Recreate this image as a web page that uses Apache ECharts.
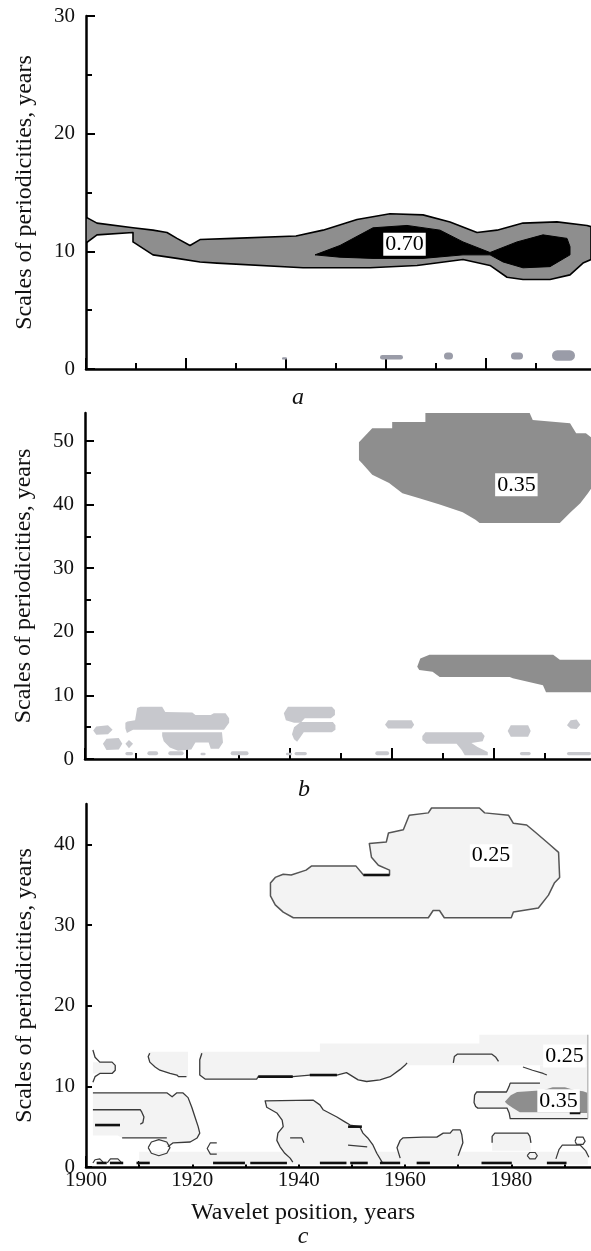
<!DOCTYPE html>
<html><head><meta charset="utf-8">
<script src="https://cdn.jsdelivr.net/npm/echarts@6/dist/echarts.min.js"></script>
<style>html,body{margin:0;padding:0;background:#fff}#chart{width:591px;height:1251px}</style>
</head><body><div id="chart"></div>
<script>
// ---------- axes ----------
const xMajorTicks = [1900, 1920, 1940, 1960, 1980];
const xMinorTicks = [1910, 1930, 1950, 1970, 1990];
const xTickLabels = [1900, 1920, 1940, 1960, 1980];
const yTicksA = [0, 10, 20, 30], yMinorA = [5, 15, 25];
const yTicksB = [0, 10, 20, 30, 40, 50], yMinorB = [5, 15, 25, 35, 45];
const yTicksC = [0, 10, 20, 30, 40];
const xMaxA = 2001, xMaxB = 1999, xMaxC = 1995;
const yMaxA = 30, yMaxB = 54.4, yMaxC = 45;

// ---------- panel a ----------
const aBand = [[1900.0,12.9],[1902.2,12.4],[1909.4,12.0],[1913.4,11.8],[1916.2,11.6],[1918.2,11.1],[1920.8,10.5],[1922.8,11.0],[1929.4,11.1],[1942.0,11.3],[1947.4,11.8],[1954.2,12.7],[1960.8,13.2],[1967.4,13.1],[1972.8,12.5],[1978.2,11.6],[1982.2,11.8],[1987.4,12.4],[1994.2,12.5],[2000.2,12.2],[2001,12.1],[2001,9.3],[1999.4,9.0],[1996.8,8.0],[1992.8,7.6],[1987.4,7.6],[1984.2,7.8],[1980.8,8.8],[1975.4,9.3],[1966.2,8.8],[1956.8,8.6],[1943.4,8.6],[1926.2,9.0],[1922.8,9.1],[1918.2,9.4],[1913.4,9.7],[1909.4,10.8],[1909.4,11.6],[1902.2,11.4],[1900.0,10.7]];
const aCore = [[1945.8,9.7],[1950.8,10.5],[1957.4,12.0],[1964.2,12.2],[1970.8,11.8],[1975.4,10.8],[1980.8,9.9],[1986.2,10.8],[1991.4,11.4],[1996.2,11.1],[1996.8,10.4],[1996.8,9.7],[1992.8,8.7],[1987.4,8.6],[1983.4,9.1],[1980.8,9.7],[1975.4,9.7],[1967.4,9.4],[1957.4,9.4],[1950.8,9.5]];
const aSpots = [[1958.8,1963.4,0.8,1.2],[1971.6,1973.4,0.8,1.4],[1985.0,1987.4,0.8,1.4],[1993.2,1997.8,0.7,1.6],[1939.2,1940.2,0.8,1.0]];
const aLabels = [{name:'0.70', value:[1963.7,10.6]}];

// ---------- panel b ----------
const bTop = [[1966.6,54.4],[1987.0,54.4],[1987.6,53.3],[1994.9,52.8],[1996.1,51.2],[1998.0,51.2],[1999,50.6],[1999,42.5],[1998.4,41.8],[1996.9,40.2],[1994.9,38.7],[1992.9,37.1],[1977.2,37.1],[1976.4,37.6],[1973.9,38.8],[1969.4,40.0],[1965.4,41.0],[1962.1,41.8],[1959.5,43.4],[1956.2,44.7],[1954.2,46.5],[1953.6,47.0],[1953.6,49.8],[1956.2,52.0],[1960.1,52.0],[1960.1,53.0],[1966.6,53.0]];
const bMid = [[1965.0,14.5],[1965.6,15.8],[1967.4,16.4],[1991.6,16.4],[1992.9,15.6],[1999,15.6],[1999,10.5],[1990.2,10.5],[1989.6,11.6],[1983.7,12.7],[1983.1,12.9],[1969.4,12.9],[1968.0,13.7],[1965.4,14.0]];
const bLightA = [[1901.6,4.5],[1902.2,5.1],[1904.5,5.3],[1905.4,4.6],[1904.5,3.9],[1902.2,3.8]];
const bLightB = [[1903.5,2.4],[1904.2,3.2],[1906.6,3.3],[1907.3,2.4],[1906.6,1.5],[1904.2,1.4]];
const bLightB2 = [[1907.9,2.4],[1908.6,3.0],[1909.4,2.4],[1908.6,1.7]];
const bLightC1 = [[1907.9,5.7],[1908.3,5.9],[1909.8,6.1],[1910.2,8.0],[1910.8,8.2],[1915.1,8.2],[1915.7,7.4],[1921.0,7.3],[1921.6,6.9],[1924.6,6.9],[1925.2,7.2],[1927.5,7.2],[1928.2,6.4],[1928.2,5.7],[1927.2,4.6],[1909.4,4.6],[1908.2,4.1],[1907.9,4.8]];
const bLightC2 = [[1915.1,4.2],[1926.8,4.2],[1927.0,2.6],[1926.2,1.6],[1924.6,1.6],[1924.2,2.6],[1921.6,2.6],[1920.8,1.5],[1918.2,1.3],[1916.6,1.8],[1915.4,2.8],[1915.1,3.6]];
const bLightD1 = [[1938.9,7.2],[1939.7,8.2],[1948.3,8.2],[1948.9,7.7],[1948.9,6.9],[1948.1,6.4],[1943.0,6.4],[1942.2,5.7],[1940.9,5.7],[1939.3,6.1]];
const bLightD2 = [[1940.9,5.0],[1942.2,5.8],[1948.5,5.8],[1949.0,5.3],[1949.0,4.6],[1948.3,4.2],[1942.8,4.2],[1942.2,3.5],[1941.5,2.7],[1940.9,3.1],[1940.5,3.9]];
const bLightE = [[1958.7,5.4],[1959.3,6.1],[1963.9,6.1],[1964.4,5.4],[1963.9,4.8],[1959.3,4.8]];
const bLightF = [[1966.0,3.6],[1966.6,4.2],[1977.6,4.2],[1978.2,3.6],[1977.8,2.8],[1975.6,2.5],[1976.8,1.9],[1978.8,1.1],[1978.8,0.6],[1974.3,0.6],[1973.7,1.4],[1972.7,2.4],[1966.8,2.4],[1966.0,3.0]];
const bLightG = [[1982.7,4.4],[1983.3,5.3],[1986.7,5.3],[1987.2,4.4],[1986.7,3.5],[1983.3,3.5]];
const bLightH = [[1994.3,5.3],[1995.0,6.1],[1996.2,6.2],[1996.9,5.4],[1996.2,4.7],[1995.0,4.8]];
const bStrips = [[1907.9,1909.4,0.6,1.1],[1912.2,1914.3,0.6,1.2],[1916.3,1919.3,0.6,1.2],[1922.6,1923.6,0.6,1.0],[1928.5,1932.0,0.6,1.2],[1939.3,1940.5,0.6,1.0],[1941.0,1943.4,0.6,1.1],[1956.8,1959.5,0.6,1.2],[1985.1,1987.2,0.6,1.1],[1994.3,1999,0.6,1.1]];
const bLabels = [{name:'0.35', value:[1984.4,43.1]}];

// ---------- panel c ----------
const cTop = [[1934.7,33.6],[1934.7,35.2],[1935.6,35.9],[1937.1,36.3],[1938.6,36.2],[1941.4,36.8],[1942.4,37.3],[1950.8,37.3],[1952.2,36.2],[1957.1,36.2],[1957.1,36.8],[1955.0,37.4],[1953.7,38.4],[1953.3,40.1],[1956.5,40.3],[1956.9,41.4],[1959.7,41.8],[1960.8,43.6],[1964.4,43.9],[1965.0,44.5],[1974.0,44.5],[1975.0,43.9],[1979.5,43.6],[1980.4,42.6],[1982.9,42.4],[1984.7,41.4],[1987.0,40.1],[1988.9,39.0],[1989.1,35.9],[1988.1,35.2],[1987.0,33.7],[1985.1,32.1],[1980.4,31.6],[1980.0,30.9],[1967.4,30.9],[1966.5,31.8],[1965.3,31.8],[1964.4,30.9],[1939.0,30.9],[1937.1,31.6],[1935.6,32.5]];
const cFillBand = [[1921.4,14.3],[1944.0,14.3],[1944.0,15.3],[1974.0,15.3],[1974.0,16.4],[1994.4,16.4],[1994.4,12.6],[1960.0,12.6],[1959.1,12.1],[1957.2,11.2],[1955.3,10.8],[1952.8,10.6],[1951.2,10.8],[1949.0,11.7],[1947.2,11.4],[1942.1,11.4],[1938.9,11.2],[1932.4,11.2],[1932.1,10.9],[1922.4,10.9],[1921.4,11.4]];
const cFillRight = [[1985.4,12.6],[1994.4,12.6],[1994.4,6.0],[1979.8,6.0],[1979.6,6.7],[1979.2,7.3],[1973.7,7.3],[1973.3,7.5],[1973.0,8.0],[1973.1,8.9],[1973.5,9.3],[1979.1,9.3],[1979.6,10.0],[1979.8,10.4],[1985.4,10.4]];
const cFillBandL = [[1911.7,14.3],[1919.2,14.3],[1919.2,11.2],[1917.4,11.2],[1917.1,11.4],[1915.8,11.6],[1913.9,12.0],[1913.0,12.4],[1912.0,13.0],[1911.7,13.7]];
const cFillLeft = [[1901.3,9.2],[1915.2,9.2],[1916.2,8.7],[1917.1,9.2],[1918.2,9.2],[1919.2,8.6],[1919.9,7.4],[1920.5,6.2],[1921.1,5.0],[1921.4,4.2],[1920.9,3.6],[1919.6,3.1],[1916.4,3.0],[1915.4,2.5],[1913.9,3.6],[1906.8,3.6],[1906.0,3.9],[1901.3,3.9]];
const cFillU = [[1901.3,13.0],[1904.9,13.0],[1905.5,12.6],[1905.5,12.0],[1904.9,11.6],[1901.3,11.6]];
const cFillMid = [[1933.7,8.2],[1942.7,8.3],[1944.0,7.7],[1944.6,7.1],[1947.2,6.2],[1948.7,5.6],[1949.7,5.2],[1951.5,5.0],[1952.1,4.2],[1953.0,3.6],[1954.0,2.7],[1954.7,1.7],[1955.7,0.6],[1938.9,0.6],[1938.4,1.1],[1937.4,1.7],[1936.5,2.5],[1935.9,3.3],[1936.1,4.2],[1937.1,5.0],[1936.9,5.8],[1935.9,6.7],[1934.0,7.4]];
const cFillBot = [[1959.1,1.1],[1958.5,2.4],[1959.1,3.3],[1959.6,3.6],[1963.4,3.7],[1966.0,3.7],[1967.2,4.2],[1968.5,4.2],[1969.0,4.6],[1970.4,4.6],[1970.7,4.0],[1970.9,3.0],[1970.4,2.1],[1970.0,1.4],[1970.0,0.5],[1959.1,0.5]];
const cFillHook = [[1976.4,2.0],[1976.4,3.8],[1976.9,4.2],[1983.1,4.2],[1983.5,3.8],[1983.7,2.0]];
const cFillFloor = [[1910.0,0.3],[1994.4,0.3],[1994.4,1.9],[1910.0,1.9]];
const cDark = [[1978.8,8.1],[1979.9,8.9],[1981.1,9.3],[1986.0,9.5],[1987.8,9.9],[1990.1,9.9],[1992.0,9.5],[1993.5,9.4],[1994.3,9.2],[1994.3,6.7],[1992.0,6.7],[1991.0,6.8],[1981.6,6.8],[1980.3,7.3],[1979.2,7.8]];
const cLineU = [[1901.3,14.5],[1901.7,13.6],[1902.6,13.0],[1904.9,13.0],[1905.5,12.6],[1905.5,12.0],[1904.9,11.6],[1902.6,11.6],[1901.7,11.2],[1901.3,10.5]];
const cLineBandL = [[1912.0,14.1],[1911.7,13.7],[1912.0,13.0],[1913.0,12.4],[1913.9,12.0],[1915.8,11.6],[1917.1,11.4],[1917.4,11.2],[1918.9,11.2]];
const cLineBand = [[1921.8,14.1],[1921.4,13.3],[1921.4,11.4],[1922.4,10.9],[1932.1,10.9],[1932.4,11.2],[1938.9,11.2],[1942.1,11.4],[1947.2,11.4],[1949.0,11.7],[1951.2,10.8],[1952.8,10.6],[1955.3,10.8],[1957.2,11.2],[1959.1,12.1],[1960.0,12.6],[1960.4,12.9]];
const cLineBox = [[1969.1,12.9],[1969.3,13.7],[1969.9,14.0],[1976.3,14.0],[1977.1,13.6],[1977.6,13.1]];
const cLineBox2 = [[1982.2,12.4],[1984.0,12.0],[1986.0,11.6],[1986.7,11.4]];
const cLineRing = [[1985.4,10.4],[1979.8,10.4],[1979.6,10.0],[1979.1,9.3],[1973.5,9.3],[1973.1,8.9],[1973.0,8.0],[1973.3,7.5],[1973.7,7.3],[1979.2,7.3],[1979.6,6.7],[1979.8,6.0],[1994.4,6.0]];
const cLineEdge = [[1994.4,6.0],[1994.4,16.4]];
const cLineLeft = [[1901.3,9.2],[1915.2,9.2],[1916.2,8.7],[1917.1,9.2],[1918.2,9.2],[1919.2,8.6],[1919.9,7.4],[1920.5,6.2],[1921.1,5.0],[1921.4,4.2],[1920.9,3.6],[1919.6,3.1],[1916.4,3.0],[1915.4,2.5]];
const cLineLeft2 = [[1906.8,3.6],[1915.2,3.6]];
const cLineLeft3 = [[1901.3,7.1],[1910.2,7.1],[1910.5,6.8],[1910.9,6.2],[1910.7,5.5],[1910.2,5.3]];
const cLoop1 = [[1911.7,2.4],[1912.3,3.1],[1913.7,3.4],[1915.2,3.1],[1915.8,2.4],[1915.2,1.7],[1913.7,1.4],[1912.3,1.7],[1911.7,2.4]];
const cLineC = [[1924.6,3.0],[1923.4,3.0],[1922.8,2.3],[1923.4,1.6],[1924.6,1.6]];
const cLineMid = [[1938.9,0.6],[1938.4,1.1],[1937.4,1.7],[1936.5,2.5],[1935.9,3.3],[1936.1,4.2],[1937.1,5.0],[1936.9,5.8],[1935.9,6.7],[1934.0,7.4],[1933.7,8.2],[1942.7,8.3],[1944.0,7.7],[1944.6,7.1],[1947.2,6.2],[1948.7,5.6],[1949.7,5.2],[1951.5,5.0],[1952.1,4.2],[1953.0,3.6],[1954.0,2.7],[1954.7,1.7],[1955.7,0.6]];
const cLineMid2 = [[1938.4,3.6],[1940.6,3.6],[1941.0,3.0]];
const cLineMid3 = [[1949.3,2.7],[1952.9,2.5]];
const cLineBot = [[1959.1,1.1],[1958.5,2.4],[1959.1,3.3],[1959.6,3.6],[1963.4,3.7],[1966.0,3.7],[1967.2,4.2],[1968.5,4.2],[1969.0,4.6],[1970.4,4.6],[1970.7,4.0],[1970.9,3.0],[1970.4,2.1],[1970.0,1.4]];
const cLineHook = [[1976.4,3.0],[1976.4,3.8],[1976.9,4.2],[1983.1,4.2],[1983.5,3.8],[1983.7,3.0]];
const cLoop2 = [[1992.0,3.2],[1992.3,3.7],[1993.5,3.7],[1993.9,3.2],[1993.5,2.8],[1992.3,2.8],[1992.0,3.2]];
const cLineRB = [[1988.4,1.0],[1989.0,2.2],[1989.6,2.7],[1993.0,2.7],[1994.0,2.0],[1994.6,1.2]];
const cLoop3 = [[1983.0,1.4],[1983.5,1.8],[1984.5,1.8],[1984.9,1.4],[1984.5,1.0],[1983.5,1.0],[1983.0,1.4]];
const cBumps1 = [[1901.3,0.5],[1901.7,0.9],[1902.6,1.0],[1903.2,0.6]];
const cBumps2 = [[1904.0,0.5],[1904.6,1.0],[1906.0,1.0],[1906.6,0.6]];
const cThick = [[1902.0,1903.9,0.5],[1904.5,1907.0,0.5],[1909.5,1912.0,0.5],[1923.9,1929.9,0.5],[1930.9,1937.8,0.5],[1944.0,1949.0,0.5],[1949.7,1953.0,0.5],[1955.3,1959.1,0.5],[1962.2,1964.7,0.5],[1974.4,1980.1,0.5],[1986.7,1990.4,0.5],[1932.4,1938.9,11.2],[1942.1,1947.2,11.4],[1949.3,1951.9,5.0],[1901.7,1906.4,5.2],[1991.0,1993.0,6.7],[1952.2,1957.1,36.2]];
const cLabels = [{name:'0.25', value:[1976.2,38.6]},{name:'0.25', value:[1990.0,13.75]},{name:'0.35', value:[1988.9,8.2]}];

// ---------- helpers ----------
const FONT = '"Liberation Serif", "Times New Roman", serif';
function poly(g, pts, fill, stroke, lw, z) {
  return {type:'custom', coordinateSystem:'cartesian2d', xAxisIndex:2*g, yAxisIndex:2*g, data:pts, clip:true, silent:true, z:z||2,
    renderItem(params, api) {
      if (params.dataIndexInside !== 0) return null;
      return {type:'polygon', shape:{points: pts.map(p => api.coord(p))},
        style:{fill: fill, stroke: stroke || 'none', lineWidth: lw || 0, lineJoin:'round'}};
    }};
}
function pline(g, pts, color, lw, z) {
  return {type:'custom', coordinateSystem:'cartesian2d', xAxisIndex:2*g, yAxisIndex:2*g, data:pts, clip:true, silent:true, z:z||4,
    renderItem(params, api) {
      if (params.dataIndexInside !== 0) return null;
      return {type:'polyline', shape:{points: pts.map(p => api.coord(p))},
        style:{fill:'none', stroke: color, lineWidth: lw, lineJoin:'round'}};
    }};
}
function rects(g, items, color, z) {
  return {type:'custom', coordinateSystem:'cartesian2d', xAxisIndex:2*g, yAxisIndex:2*g, data:items, encode:{x:[0,1], y:[2,3]}, clip:true, silent:true, z:z||2,
    renderItem(params, api) {
      const p1 = api.coord([api.value(0), api.value(3)]);
      const p2 = api.coord([api.value(1), api.value(2)]);
      const w = p2[0]-p1[0], h = p2[1]-p1[1];
      return {type:'rect', shape:{x:p1[0], y:p1[1], width:w, height:h, r: Math.min(w,h)/2}, style:{fill:color}};
    }};
}
function segs(g, items, color, lw, z) {
  return {type:'custom', coordinateSystem:'cartesian2d', xAxisIndex:2*g, yAxisIndex:2*g, data:items, encode:{x:[0,1], y:2}, clip:true, silent:true, z:z||5,
    renderItem(params, api) {
      const p1 = api.coord([api.value(0), api.value(2)]);
      const p2 = api.coord([api.value(1), api.value(2)]);
      return {type:'line', shape:{x1:p1[0], y1:p1[1], x2:p2[0], y2:p2[1]}, style:{stroke:color, lineWidth:lw}};
    }};
}
function labels(g, items, border) {
  return {type:'scatter', xAxisIndex:2*g, yAxisIndex:2*g, data:items, symbolSize:1, silent:true, z:10,
    itemStyle:{color:'rgba(0,0,0,0)', opacity:1},
    label:{show:true, position:'inside', opacity:1, formatter: p => p.name, fontFamily:FONT, fontSize:22, color:'#000',
      backgroundColor:'#ffffff', borderColor: border ? '#000' : 'rgba(0,0,0,0)', borderWidth: border ? 1 : 0, padding:[1,2,0,2]}};
}
const yearFmt = v => String(Math.round(v));
function xAxes(g, max, showLabels) {
  return [
    {type:'value', gridIndex:g, min:1900, max:max, position:'bottom',
      axisLine:{show:true, onZero:false, lineStyle:{color:'#000', width:2.5}},
      axisTick:{show:true, inside:true, length:11, customValues:xMajorTicks, lineStyle:{color:'#000', width:2}},
      axisLabel:{show:showLabels, customValues:xTickLabels, formatter:yearFmt, margin:3, fontFamily:FONT, fontSize:21, color:'#111'},
      splitLine:{show:false}},
    {type:'value', gridIndex:g, min:1900, max:max, position:'bottom',
      axisLine:{show:false, onZero:false},
      axisTick:{show:true, inside:true, length:6, customValues:xMinorTicks, lineStyle:{color:'#000', width:2}},
      axisLabel:{show:false}, splitLine:{show:false}}
  ];
}
function yAxes(g, max, ticks, minor, tickLen) {
  return [
    {type:'value', gridIndex:g, min:0, max:max, position:'left',
      name:'Scales of periodicities, years', nameLocation:'middle', nameGap:49,
      nameTextStyle:{fontFamily:FONT, fontSize:24, color:'#111'},
      axisLine:{show:true, onZero:false, lineStyle:{color:'#000', width:2.5}},
      axisTick:{show:true, inside:true, length:tickLen, customValues:ticks, lineStyle:{color:'#000', width:2}},
      axisLabel:{customValues:ticks, formatter:yearFmt, margin:11, fontFamily:FONT, fontSize:21, color:'#111'},
      splitLine:{show:false}},
    {type:'value', gridIndex:g, min:0, max:max, position:'left',
      axisLine:{show:false, onZero:false},
      axisTick:{show: minor.length > 0, inside:true, length:6, customValues:minor.length ? minor : [0], lineStyle:{color:'#000', width:2}},
      axisLabel:{show:false}, splitLine:{show:false}}
  ];
}

const GRAY = '#8e8e8e', LIGHT = '#c7c8cd', PALE = '#f3f3f3', LINE = '#3a3a3a';

const series = [
  // panel a
  poly(0, aBand, GRAY, '#000', 1.6, 2),
  poly(0, aCore, '#000', '#000', 1, 3),
  rects(0, aSpots, '#9a9ca8', 3),
  labels(0, aLabels, true),
  // panel b
  poly(1, bTop, GRAY), poly(1, bMid, GRAY),
  poly(1, bLightA, LIGHT), poly(1, bLightB, LIGHT), poly(1, bLightB2, LIGHT),
  poly(1, bLightC1, LIGHT), poly(1, bLightC2, LIGHT), poly(1, bLightD1, LIGHT), poly(1, bLightD2, LIGHT),
  poly(1, bLightE, LIGHT), poly(1, bLightF, LIGHT), poly(1, bLightG, LIGHT), poly(1, bLightH, LIGHT),
  rects(1, bStrips, LIGHT),
  labels(1, bLabels, false),
  // panel c fills
  poly(2, cTop, PALE, '#555', 1.5, 3),
  poly(2, cFillFloor, PALE, null, 0, 1),
  poly(2, cFillBand, PALE), poly(2, cFillRight, PALE), poly(2, cFillBandL, PALE),
  poly(2, cFillLeft, PALE), poly(2, cFillU, PALE), poly(2, cFillMid, PALE),
  poly(2, cFillBot, PALE), poly(2, cFillHook, PALE),
  poly(2, cDark, GRAY, null, 0, 3),
  // panel c outlines
  pline(2, cLineU, LINE, 1.3), pline(2, cLineBandL, LINE, 1.3), pline(2, cLineBand, LINE, 1.3),
  pline(2, cLineBox, LINE, 1.3), pline(2, cLineBox2, LINE, 1.2), pline(2, cLineRing, LINE, 1.3),
  pline(2, cLineEdge, '#b0b0b0', 1.2), pline(2, cLineLeft, LINE, 1.3), pline(2, cLineLeft2, LINE, 1.3),
  pline(2, cLineLeft3, LINE, 1.3), pline(2, cLoop1, LINE, 1.2), pline(2, cLineC, LINE, 1.2),
  pline(2, cLineMid, LINE, 1.3), pline(2, cLineMid2, LINE, 1.2), pline(2, cLineMid3, LINE, 1.2),
  pline(2, cLineBot, LINE, 1.3), pline(2, cLineHook, LINE, 1.3), pline(2, cLoop2, LINE, 1.2),
  pline(2, cLineRB, LINE, 1.2), pline(2, cLoop3, LINE, 1.2), pline(2, cBumps1, LINE, 1.2), pline(2, cBumps2, LINE, 1.2),
  segs(2, cThick, '#111', 2.6),
  labels(2, cLabels, false)
];

const chart = echarts.init(document.getElementById('chart'), null, {renderer:'canvas'});
chart.setOption({
  backgroundColor:'#fff',
  animation:false,
  grid:[
    {left:86, top:16, width:505, height:353, outerBoundsMode:'none'},
    {left:85, top:413, width:506, height:346, outerBoundsMode:'none'},
    {left:86, top:804, width:505, height:363, outerBoundsMode:'none'}
  ],
  xAxis:[].concat(xAxes(0, xMaxA, false), xAxes(1, xMaxB, false), xAxes(2, xMaxC, true)),
  yAxis:[].concat(yAxes(0, yMaxA, yTicksA, yMinorA, 9), yAxes(1, yMaxB, yTicksB, yMinorB, 9), yAxes(2, yMaxC, yTicksC, [], 6)),
  graphic:[
    {type:'text', x:298, y:398, style:{text:'a', fontFamily:FONT, fontStyle:'italic', fontSize:24, fill:'#111', align:'center', verticalAlign:'middle'}},
    {type:'text', x:304, y:790, style:{text:'b', fontFamily:FONT, fontStyle:'italic', fontSize:24, fill:'#111', align:'center', verticalAlign:'middle'}},
    {type:'text', x:303, y:1213, style:{text:'Wavelet position, years', fontFamily:FONT, fontSize:24, fill:'#111', align:'center', verticalAlign:'middle'}},
    {type:'text', x:303, y:1237, style:{text:'c', fontFamily:FONT, fontStyle:'italic', fontSize:24, fill:'#111', align:'center', verticalAlign:'middle'}}
  ],
  series: series
});
</script></body></html>
